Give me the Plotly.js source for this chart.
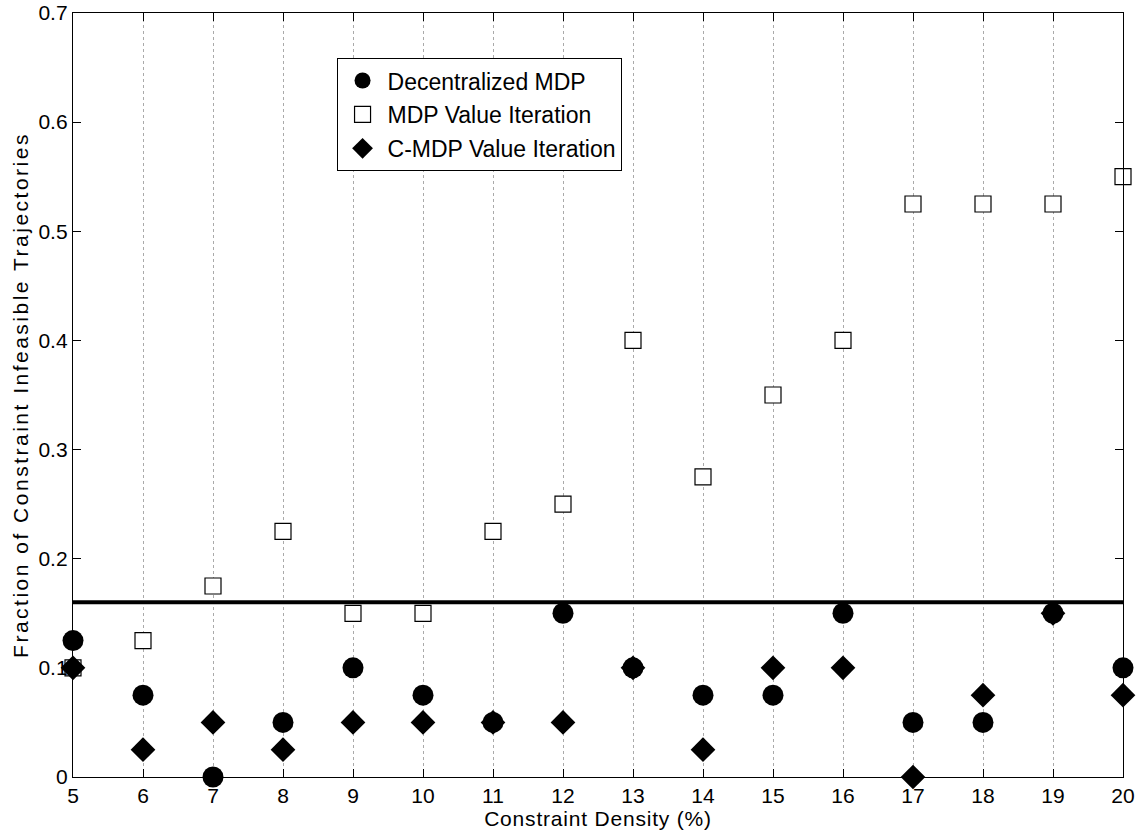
<!DOCTYPE html>
<html>
<head>
<meta charset="utf-8">
<script src="https://cdn.plot.ly/plotly-3.0.1.min.js"></script>
<style>
html,body{margin:0;padding:0;background:#fff;}
#chart{width:1141px;height:835px;}
#chart .ytitle{letter-spacing:2.5px;}
#chart .xtitle{letter-spacing:0.8px;}
</style>
</head>
<body>
<div id="chart"></div>
<script>
const density = [5,6,7,8,9,10,11,12,13,14,15,16,17,18,19,20];
const decentralizedMDP = [0.125,0.075,0,0.05,0.1,0.075,0.05,0.15,0.1,0.075,0.075,0.15,0.05,0.05,0.15,0.1];
const mdpValueIteration = [0.1,0.125,0.175,0.225,0.15,0.15,0.225,0.25,0.4,0.275,0.35,0.4,0.525,0.525,0.525,0.55];
const cmdpValueIteration = [0.1,0.025,0.05,0.025,0.05,0.05,0.05,0.05,0.1,0.025,0.1,0.1,0,0.075,0.15,0.075];
const threshold = 0.16;
const xTicks = [5,6,7,8,9,10,11,12,13,14,15,16,17,18,19,20];
const yTicks = [0,0.1,0.2,0.3,0.4,0.5,0.6,0.7];
const yTickLabels = ['0','0.1','0.2','0.3','0.4','0.5','0.6','0.7'];

const font = 'Liberation Sans, Arial, Helvetica, sans-serif';

const traces = [
  {x:[density[0], density[density.length-1]], y:[threshold, threshold], mode:'lines',
   line:{color:'#000', width:4}, showlegend:false, hoverinfo:'skip', cliponaxis:false},
  {x:density, y:mdpValueIteration, mode:'markers', name:'MDP Value Iteration', legendrank:2, legendgroup:'b',
   marker:{symbol:'square', size:16, color:'#fff', line:{color:'#000', width:1.2}}, cliponaxis:false},
  {x:density, y:decentralizedMDP, mode:'markers', name:'Decentralized MDP', legendrank:1, legendgroup:'a',
   marker:{symbol:'circle', size:21, color:'#000', line:{color:'#000', width:0}}, cliponaxis:false},
  {x:density, y:cmdpValueIteration, mode:'markers', name:'C-MDP Value Iteration', legendrank:3, legendgroup:'c',
   marker:{symbol:'diamond', size:19, color:'#000', line:{color:'#000', width:0}}, cliponaxis:false}
];

const layout = {
  width:1141, height:835,
  margin:{l:73, r:18, t:13, b:58},
  paper_bgcolor:'#fff', plot_bgcolor:'#fff',
  font:{family:font, size:21, color:'#000'},
  showlegend:true,
  legend:{x:0.251, y:0.941, xanchor:'left', yanchor:'top', bgcolor:'#fff',
          bordercolor:'#000', borderwidth:1, font:{family:font, size:23, color:'#000'},
          traceorder:'grouped', itemwidth:40, tracegroupgap:1},
  xaxis:{range:[5,20], tickvals:xTicks, ticktext:xTicks.map(String), ticks:'inside', ticklen:8,
         tickcolor:'#000', showline:true, linecolor:'#000', linewidth:1.2, mirror:'ticks',
         showgrid:true, gridcolor:'#aaa', griddash:'dot', gridwidth:1, zeroline:false,
         tickfont:{family:font, size:21, color:'#000'},
         title:{text:'Constraint Density (%)', font:{family:font, size:21, color:'#000'}, standoff:0}},
  yaxis:{range:[0,0.7], tickvals:yTicks, ticktext:yTickLabels, ticks:'inside', ticklen:8,
         tickcolor:'#000', showline:true, linecolor:'#000', linewidth:1.2, mirror:'ticks',
         showgrid:false, zeroline:false,
         tickfont:{family:font, size:21, color:'#000'},
         title:{text:'Fraction of Constraint Infeasible Trajectories', font:{family:font, size:21, color:'#000'}, standoff:4}}
};

Plotly.newPlot('chart', traces, layout, {displayModeBar:false, staticPlot:true});
</script>
</body>
</html>
